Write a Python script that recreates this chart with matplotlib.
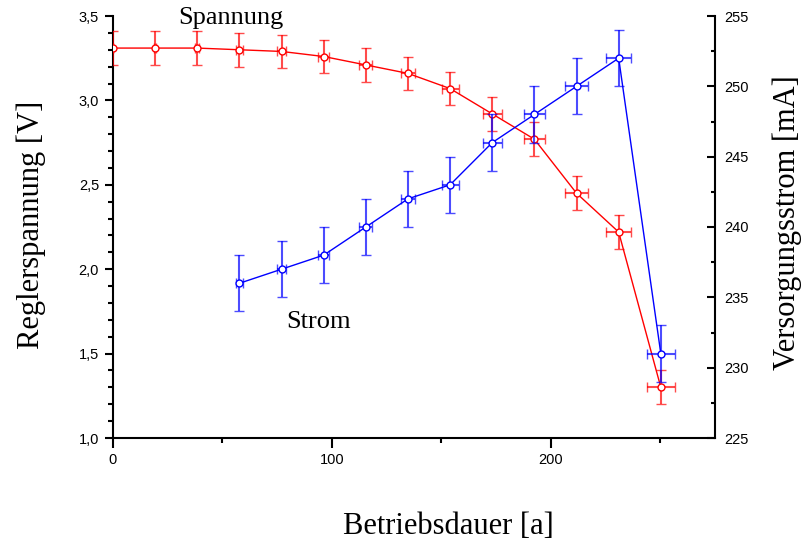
import matplotlib
matplotlib.use("Agg")
import matplotlib.pyplot as plt
from matplotlib.ticker import MultipleLocator, FuncFormatter

# ---- data ----
x_spannung = [0, 19.25, 38.5, 57.75, 77, 96.25, 115.5, 134.75, 154, 173.25, 192.5, 211.75, 231, 250.25]
spannung = [3.31, 3.31, 3.31, 3.30, 3.29, 3.26, 3.21, 3.16, 3.07, 2.92, 2.77, 2.45, 2.22, 1.30]
spannung_yerr = [0.1] * 14
spannung_xerr = [0, 0.5, 1.0, 1.5, 1.9, 2.4, 2.9, 3.4, 3.85, 4.3, 4.8, 5.3, 5.8, 6.3]

x_strom = [57.75, 77, 96.25, 115.5, 134.75, 154, 173.25, 192.5, 211.75, 231, 250.25]
strom = [236, 237, 238, 240, 242, 243, 246, 248, 250, 252, 231]
strom_yerr = [2] * 11
strom_xerr = [1.5, 1.9, 2.4, 2.9, 3.4, 3.85, 4.3, 4.8, 5.3, 5.8, 6.3]

x_label = "Betriebsdauer [a]"
y_label = "Reglerspannung [V]"
y2_label = "Versorgungsstrom [mA]"

serif = ["Liberation Serif", "DejaVu Serif"]
sans = ["Liberation Sans", "DejaVu Sans"]

fig = plt.figure(figsize=(8.06, 5.44), dpi=100)
ax = fig.add_axes([113 / 806, 1 - 438 / 544, (715 - 113) / 806, (438 - 16) / 544])
ax2 = ax.twinx()

red = "#ff0000"
blue = "#0000ff"

ax.errorbar(x_spannung, spannung, yerr=spannung_yerr, xerr=spannung_xerr,
            color=red, lw=1.0, marker="o", ms=5, mfc="white", mec=red, mew=1.0,
            ecolor=(1, 0, 0, 0.7), elinewidth=1.5, capsize=3.5, capthick=1.5, zorder=3)
ax2.errorbar(x_strom, strom, yerr=strom_yerr, xerr=strom_xerr,
             color=blue, lw=1.0, marker="o", ms=5, mfc="white", mec=blue, mew=1.0,
             ecolor=(0, 0, 1, 0.7), elinewidth=1.5, capsize=3.5, capthick=1.5, zorder=3)

ax.set_xlim(0, 275)
ax.set_ylim(1.0, 3.5)
ax2.set_ylim(225, 255)

ax.xaxis.set_major_locator(MultipleLocator(100))
ax.xaxis.set_minor_locator(MultipleLocator(50))
ax.yaxis.set_major_locator(MultipleLocator(0.5))
ax.yaxis.set_minor_locator(MultipleLocator(0.1))
ax2.yaxis.set_major_locator(MultipleLocator(5))
ax2.yaxis.set_minor_locator(MultipleLocator(2.5))

ax.yaxis.set_major_formatter(FuncFormatter(lambda v, p: f"{v:.1f}".replace(".", ",")))

for a in (ax, ax2):
    a.spines["top"].set_visible(False)
    for s in a.spines.values():
        s.set_linewidth(1.5)
ax.spines["right"].set_visible(False)
ax2.spines["left"].set_visible(False)
ax2.spines["bottom"].set_visible(False)

ax.tick_params(axis="x", which="major", direction="out", length=7, width=1.5, pad=4)
ax.tick_params(axis="x", which="minor", direction="out", length=3.5, width=1.5)
ax.tick_params(axis="y", which="major", direction="out", length=6, width=1.5, pad=4)
ax.tick_params(axis="y", which="minor", direction="out", length=3.5, width=1.5)
ax2.tick_params(axis="y", which="major", direction="in", length=6, width=1.5, pad=7)
ax2.tick_params(axis="y", which="minor", direction="in", length=3, width=1.5)

for lab in ax.get_xticklabels() + ax.get_yticklabels() + ax2.get_yticklabels():
    lab.set_fontfamily(sans)
    lab.set_fontsize(10.5)

ax.set_xlabel(x_label, fontfamily=serif, fontsize=22)
ax.xaxis.set_label_coords(0.557, -0.175)
ax.set_ylabel(y_label, fontfamily=serif, fontsize=22)
ax.yaxis.set_label_coords(-0.111, 0.505)
ax2.set_ylabel(y2_label, fontfamily=serif, fontsize=22)
ax2.yaxis.set_label_coords(1.095, 0.51)

ax.text(29.7, 3.49, "Spannung", fontfamily=serif, fontsize=19, va="center", ha="left", zorder=5)
ax.text(79, 1.687, "Strom", fontfamily=serif, fontsize=19, va="center", ha="left", zorder=5)

fig.savefig("out.png", dpi=100)
